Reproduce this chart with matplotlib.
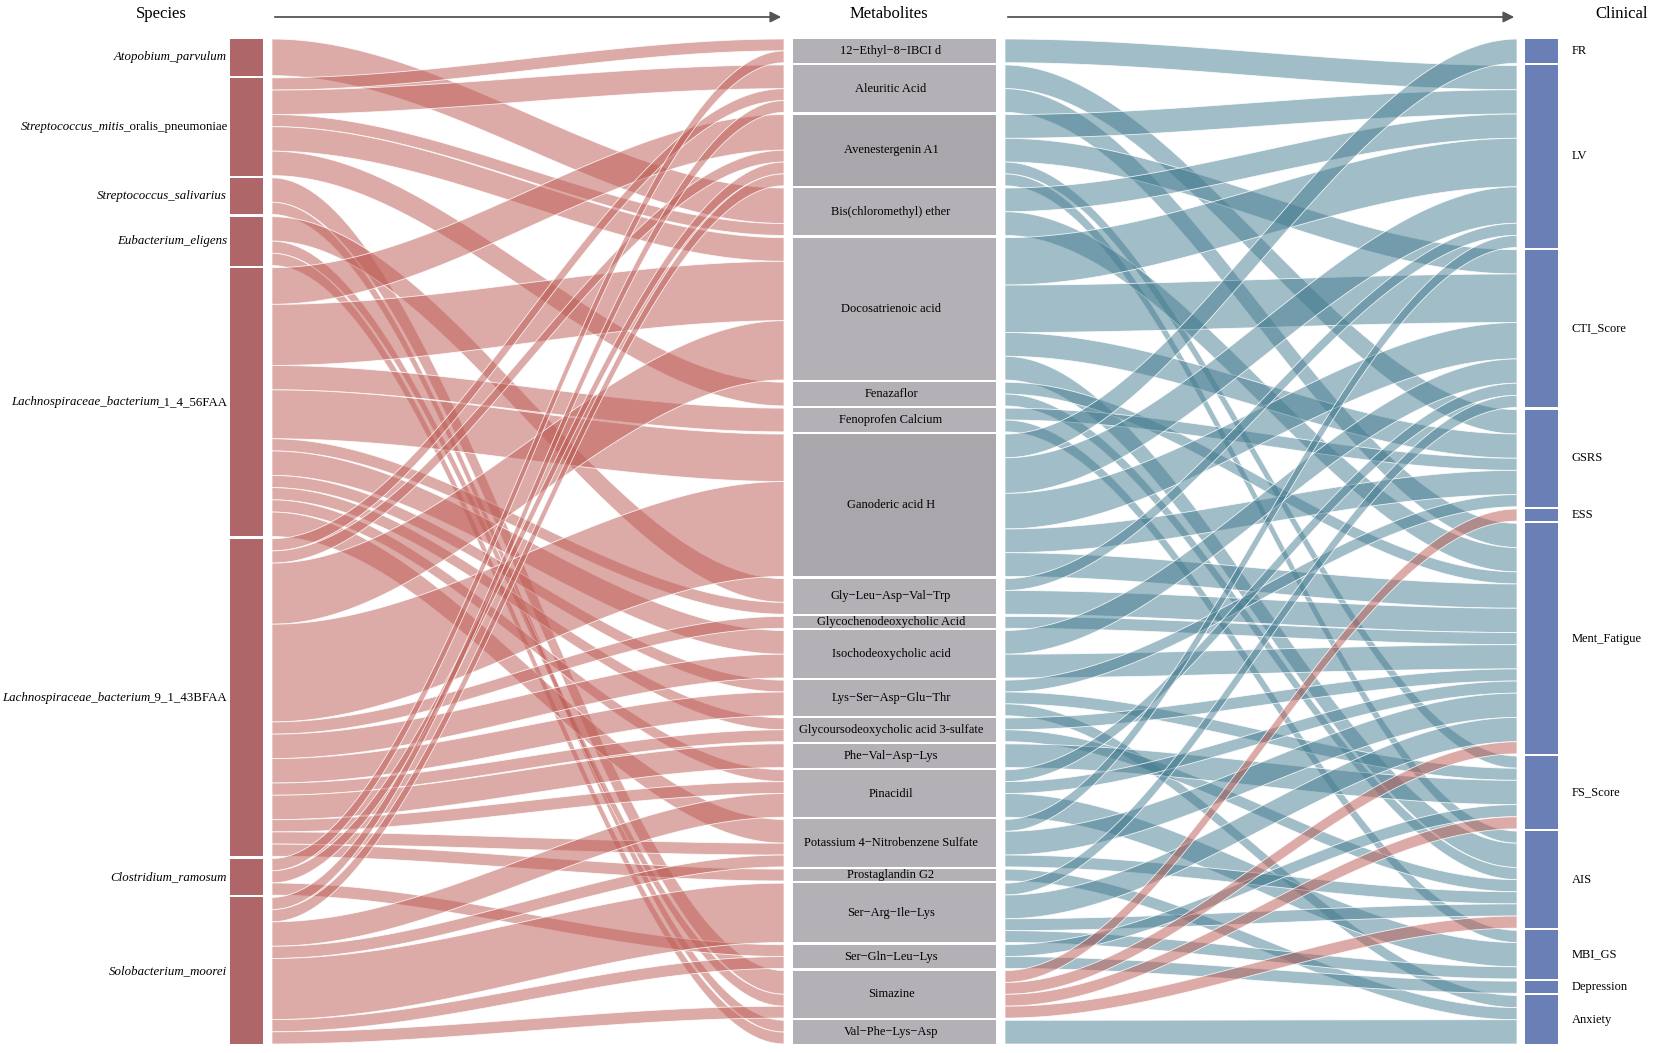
import numpy as np
import matplotlib
matplotlib.use("Agg")
import matplotlib.pyplot as plt
from matplotlib.patches import Polygon, Rectangle

plt.rcParams['font.family'] = ['Liberation Serif', 'DejaVu Serif']

# nodes of the three columns
species = ["Atopobium_parvulum", "Streptococcus_mitis_oralis_pneumoniae", "Streptococcus_salivarius",
           "Eubacterium_eligens", "Lachnospiraceae_bacterium_1_4_56FAA", "Lachnospiraceae_bacterium_9_1_43BFAA",
           "Clostridium_ramosum", "Solobacterium_moorei"]
# italic part / upright part of each species label
species_italic = ["Atopobium_parvulum", "Streptococcus_mitis", "Streptococcus_salivarius", "Eubacterium_eligens",
                  "Lachnospiraceae_bacterium", "Lachnospiraceae_bacterium", "Clostridium_ramosum", "Solobacterium_moorei"]
species_plain = ["", "_oralis_pneumoniae", "", "", "_1_4_56FAA", "_9_1_43BFAA", "", ""]

metabolites = ["12\u2212Ethyl\u22128\u2212IBCI d", "Aleuritic Acid", "Avenestergenin A1", "Bis(chloromethyl) ether",
               "Docosatrienoic acid", "Fenazaflor", "Fenoprofen Calcium", "Ganoderic acid H",
               "Gly\u2212Leu\u2212Asp\u2212Val\u2212Trp", "Glycochenodeoxycholic Acid", "Isochodeoxycholic acid",
               "Lys\u2212Ser\u2212Asp\u2212Glu\u2212Thr", "Glycoursodeoxycholic acid 3-sulfate", "Phe\u2212Val\u2212Asp\u2212Lys",
               "Pinacidil", "Potassium 4\u2212Nitrobenzene Sulfate", "Prostaglandin G2", "Ser\u2212Arg\u2212Ile\u2212Lys",
               "Ser\u2212Gln\u2212Leu\u2212Lys", "Simazine", "Val\u2212Phe\u2212Lys\u2212Asp"]
dark_metabolites = ["Avenestergenin A1", "Ganoderic acid H"]

clinical = ["FR", "LV", "CTI_Score", "GSRS", "ESS", "Ment_Fatigue", "FS_Score", "AIS", "MBI_GS", "Depression", "Anxiety"]

# species -> metabolite (source index, target index, weight)
species_links = [
    (0, 3, 3),
    (1, 0, 1), (1, 1, 2), (1, 3, 1), (1, 4, 2), (1, 5, 2),
    (2, 19, 2), (2, 20, 1),
    (3, 8, 2), (3, 19, 1), (3, 20, 1),
    (4, 2, 3), (4, 4, 5), (4, 6, 2), (4, 7, 4), (4, 8, 1), (4, 10, 2), (4, 11, 1), (4, 12, 1), (4, 14, 1), (4, 15, 2),
    (5, 1, 1), (5, 2, 1), (5, 4, 5), (5, 7, 8), (5, 9, 1), (5, 10, 2), (5, 11, 2), (5, 12, 1), (5, 13, 2),
    (5, 14, 1), (5, 15, 1), (5, 16, 1),
    (6, 0, 1), (6, 2, 1), (6, 18, 1),
    (7, 1, 1), (7, 2, 1), (7, 14, 2), (7, 15, 1), (7, 18, 1), (7, 19, 1), (7, 17, 5),
]

# metabolite -> clinical (source, target, weight, negative)
clinical_links = [
    (0, 1, 2, 0),
    (1, 3, 2, 0), (1, 5, 2, 0),
    (2, 1, 2, 0), (2, 2, 2, 0), (2, 6, 1, 0), (2, 7, 1, 0),
    (3, 1, 2, 0), (3, 5, 2, 0),
    (4, 1, 4, 0), (4, 2, 4, 0), (4, 3, 2, 0), (4, 7, 2, 0),
    (5, 5, 1, 0), (5, 7, 1, 0),
    (6, 3, 1, 0), (6, 8, 1, 0),
    (7, 0, 2, 0), (7, 1, 3, 0), (7, 2, 3, 0), (7, 3, 2, 0), (7, 5, 2, 0),
    (8, 1, 1, 0), (8, 5, 2, 0),
    (9, 5, 1, 0),
    (10, 2, 2, 0), (10, 5, 2, 0),
    (11, 3, 1, 0), (11, 6, 1, 0), (11, 10, 1, 0),
    (12, 5, 1, 0), (12, 7, 1, 0),
    (13, 6, 2, 0),
    (14, 2, 1, 0), (14, 5, 1, 0), (14, 8, 2, 0),
    (15, 1, 1, 0), (15, 5, 2, 0), (15, 7, 1, 0),
    (16, 10, 1, 0),
    (17, 2, 1, 0), (17, 5, 2, 0), (17, 7, 1, 0), (17, 8, 1, 0),
    (18, 6, 1, 0), (18, 9, 1, 0),
    (19, 4, 1, 1), (19, 5, 1, 1), (19, 6, 1, 1), (19, 7, 1, 1),
    (20, 10, 2, 0),
]

W, H = 1654, 1053
TOP, BOTTOM, GAP = 39, 1044, 2.2

fig = plt.figure(figsize=(W / 100, H / 100), dpi=100)
ax = fig.add_axes([0, 0, 1, 1])
ax.set_xlim(0, W)
ax.set_ylim(H, 0)
ax.axis('off')


def stack(totals):
    unit = (BOTTOM - TOP - GAP * (len(totals) - 1)) / sum(totals)
    starts, y = [], TOP
    for t in totals:
        starts.append(y)
        y += t * unit + GAP
    return np.array(starts), unit


def band(x0, x1, a0, b0, a1, b1, color):
    t = np.linspace(0, 1, 80)
    s = 3 * t ** 2 - 2 * t ** 3
    x = x0 + (x1 - x0) * t
    top = a0 + (a1 - a0) * s
    bot = b0 + (b1 - b0) * s
    verts = np.vstack([np.column_stack([x, top]), np.column_stack([x[::-1], bot[::-1]])])
    ax.add_patch(Polygon(verts, closed=True, facecolor=color, edgecolor=(1, 1, 1, 0.85), lw=0.6))


sp_tot = [sum(v for s, t, v in species_links if s == i) for i in range(len(species))]
me_tot = [sum(v for s, t, v in species_links if t == i) for i in range(len(metabolites))]
cl_tot = [sum(l[2] for l in clinical_links if l[1] == i) for i in range(len(clinical))]

sp_y, sp_u = stack(sp_tot)
me_y, me_u = stack(me_tot)
cl_y, cl_u = stack(cl_tot)

RED = (0.75, 0.37, 0.34, 0.52)
BLUE = (0.27, 0.49, 0.57, 0.5)

# species -> metabolites
src_off = list(sp_y)
out_order = sorted(range(len(species_links)), key=lambda k: (species_links[k][0], species_links[k][1]))
in_order = sorted(range(len(species_links)), key=lambda k: (species_links[k][1], species_links[k][0]))
y_src = {}
for k in out_order:
    s, t, v = species_links[k]
    y_src[k] = src_off[s]
    src_off[s] += v * sp_u
tgt_off = list(me_y)
y_tgt = {}
for k in in_order:
    s, t, v = species_links[k]
    y_tgt[k] = tgt_off[t]
    tgt_off[t] += v * me_u
for k, (s, t, v) in enumerate(species_links):
    band(272, 784, y_src[k], y_src[k] + v * sp_u, y_tgt[k], y_tgt[k] + v * me_u, RED)

# metabolites -> clinical
src_off = list(me_y)
out_order = sorted(range(len(clinical_links)), key=lambda k: (clinical_links[k][0], clinical_links[k][1]))
in_order = sorted(range(len(clinical_links)), key=lambda k: (clinical_links[k][1], clinical_links[k][0]))
y_src, y_tgt = {}, {}
for k in out_order:
    s, t, v, n = clinical_links[k]
    y_src[k] = src_off[s]
    src_off[s] += v * me_u
tgt_off = list(cl_y)
for k in in_order:
    s, t, v, n = clinical_links[k]
    y_tgt[k] = tgt_off[t]
    tgt_off[t] += v * cl_u
for k, (s, t, v, n) in enumerate(clinical_links):
    band(1005, 1517, y_src[k], y_src[k] + v * me_u, y_tgt[k], y_tgt[k] + v * cl_u, RED if n else BLUE)

# node boxes
for i, name in enumerate(species):
    ax.add_patch(Rectangle((230, sp_y[i]), 33, sp_tot[i] * sp_u, facecolor='#AE6669', lw=0))
for i, name in enumerate(metabolites):
    fc = '#A9A7AC' if name in dark_metabolites else '#B3B1B6'
    ax.add_patch(Rectangle((793, me_y[i]), 203, me_tot[i] * me_u, facecolor=fc, lw=0))
    ax.text(891, me_y[i] + me_tot[i] * me_u / 2, name, ha='center', va='center', fontsize=9)
for i, name in enumerate(clinical):
    ax.add_patch(Rectangle((1525, cl_y[i]), 33, cl_tot[i] * cl_u, facecolor='#6A7FB5', lw=0))
    ax.text(1572, cl_y[i] + cl_tot[i] * cl_u / 2, name, ha='left', va='center', fontsize=9)

# species labels: italic name part, upright strain part
renderer = fig.canvas.get_renderer()
inv = ax.transData.inverted()
for i in range(len(species)):
    yc = sp_y[i] + sp_tot[i] * sp_u / 2
    xr = 227
    if species_plain[i]:
        tx = ax.text(xr, yc, species_plain[i], ha='right', va='center', fontsize=9.3)
        bb = tx.get_window_extent(renderer)
        xr = inv.transform((bb.x0, bb.y0))[0] + 2
    ax.text(xr, yc, species_italic[i], ha='right', va='center', fontsize=9.3, style='italic')

# column headers and arrows
ax.text(161, 14, "Species", ha='center', va='center', fontsize=12)
ax.text(889, 14, "Metabolites", ha='center', va='center', fontsize=12)
ax.text(1622, 14, "Clinical", ha='center', va='center', fontsize=12)
for xa, xb in [(272, 784), (1005, 1517)]:
    ax.annotate("", xy=(xb, 17), xytext=(xa, 17),
                arrowprops=dict(arrowstyle='-|>', color='#555555', lw=1.3, mutation_scale=16))

fig.savefig("out.png", dpi=100)
